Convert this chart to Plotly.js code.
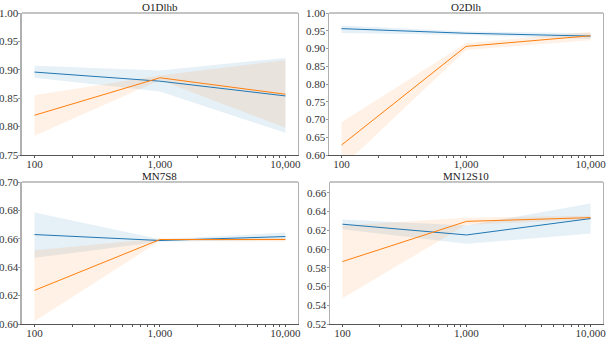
<!DOCTYPE html>
<html>
<head>
<meta charset="utf-8">
<script src="https://cdn.plot.ly/plotly-3.0.1.min.js"></script>
<style>
  html, body { margin: 0; padding: 0; background: #fff; }
  #chart { width: 606px; height: 338px; }
</style>
</head>
<body>
<div id="chart"></div>
<script>
// Dados
const xVals = [100, 1000, 10000];
const xTickText = ['100', '1,000', '10,000'];
const panelTitles = ['O1Dlhb', 'O2Dlh', 'MN7S8', 'MN12S10'];

// O1Dlhb
const o1Blue = [0.896, 0.880, 0.854];
const o1BlueLo = [0.886, 0.862, 0.789];
const o1BlueHi = [0.907, 0.899, 0.921];
const o1Orange = [0.820, 0.886, 0.857];
const o1OrangeLo = [0.784, 0.882, 0.798];
const o1OrangeHi = [0.855, 0.890, 0.917];

// O2Dlh
const o2Blue = [0.956, 0.943, 0.935];
const o2BlueLo = [0.944, 0.938, 0.927];
const o2BlueHi = [0.965, 0.948, 0.943];
const o2Orange = [0.628, 0.906, 0.936];
const o2OrangeLo = [0.565, 0.896, 0.923];
const o2OrangeHi = [0.692, 0.915, 0.947];

// MN7S8
const mn7Blue = [0.6630, 0.6588, 0.6616];
const mn7BlueLo = [0.6466, 0.6580, 0.6593];
const mn7BlueHi = [0.6785, 0.6597, 0.6644];
const mn7Orange = [0.6237, 0.6595, 0.6595];
const mn7OrangeLo = [0.6020, 0.6585, 0.6581];
const mn7OrangeHi = [0.6520, 0.6602, 0.6607];

// MN12S10
const mn12Blue = [0.6265, 0.6150, 0.6325];
const mn12BlueLo = [0.6210, 0.6055, 0.6165];
const mn12BlueHi = [0.6315, 0.6250, 0.6485];
const mn12Orange = [0.5866, 0.6295, 0.6335];
const mn12OrangeLo = [0.5474, 0.6260, 0.6315];
const mn12OrangeHi = [0.6250, 0.6335, 0.6355];

const yRanges = [[0.75, 1.0], [0.6, 1.0], [0.6, 0.7], [0.52, 0.6715]];
const yTicks = [
    [0.75, 0.80, 0.85, 0.90, 0.95, 1.00],
    [0.60, 0.65, 0.70, 0.75, 0.80, 0.85, 0.90, 0.95, 1.00],
    [0.60, 0.62, 0.64, 0.66, 0.68, 0.70],
    [0.52, 0.54, 0.56, 0.58, 0.60, 0.62, 0.64, 0.66]
];
const minorTicks = [200, 300, 400, 500, 600, 700, 800, 900, 2000, 3000, 4000, 5000, 6000, 7000, 8000, 9000];

const BLUE = '#1f77b4';
const ORANGE = '#ff7f0e';
const FONT = "'Liberation Serif', 'DejaVu Serif', serif";

const xDomains = [[0.0363, 0.4917], [0.5430, 0.9950], [0.0363, 0.4917], [0.5446, 0.9950]];
const yDomains = [[0.5414, 0.9615], [0.5414, 0.9615], [0.0414, 0.4615], [0.0414, 0.4615]];

function banda(xa, ya, lo, hi, cor) {
    return {
        x: xVals.concat(xVals.slice().reverse()),
        y: hi.concat(lo.slice().reverse()),
        xaxis: xa, yaxis: ya,
        type: 'scatter', mode: 'lines',
        fill: 'toself', fillcolor: cor,
        line: { width: 0 },
        hoverinfo: 'skip', showlegend: false
    };
}

function linha(xa, ya, y, cor) {
    return {
        x: xVals, y: y,
        xaxis: xa, yaxis: ya,
        type: 'scatter', mode: 'lines',
        line: { color: cor, width: 1 },
        showlegend: false
    };
}

const paineis = [
    [o1Blue, o1BlueLo, o1BlueHi, o1Orange, o1OrangeLo, o1OrangeHi],
    [o2Blue, o2BlueLo, o2BlueHi, o2Orange, o2OrangeLo, o2OrangeHi],
    [mn7Blue, mn7BlueLo, mn7BlueHi, mn7Orange, mn7OrangeLo, mn7OrangeHi],
    [mn12Blue, mn12BlueLo, mn12BlueHi, mn12Orange, mn12OrangeLo, mn12OrangeHi]
];

const data = [];
const layout = {
    width: 606, height: 338,
    margin: { l: 0, r: 0, t: 0, b: 0 },
    paper_bgcolor: '#fff', plot_bgcolor: '#fff',
    font: { family: FONT, size: 11, color: '#333' },
    showlegend: false,
    shapes: [],
    annotations: []
};

paineis.forEach((p, i) => {
    const n = i + 1;
    const xa = 'x' + n, ya = 'y' + n;
    data.push(banda(xa, ya, p[1], p[2], 'rgba(31,119,180,0.11)'));
    data.push(banda(xa, ya, p[4], p[5], 'rgba(255,127,14,0.11)'));
    data.push(linha(xa, ya, p[0], BLUE));
    data.push(linha(xa, ya, p[3], ORANGE));

    layout['xaxis' + n] = {
        domain: xDomains[i], anchor: ya,
        type: 'log', range: [1.9, 4.1],
        tickvals: xVals, ticktext: xTickText,
        ticks: 'outside', ticklen: 2, tickcolor: '#555',
        minor: { tickvals: minorTicks, ticks: 'outside', ticklen: 2, tickcolor: '#555' },
        showline: true, linecolor: '#555', linewidth: 1,
        showgrid: false, zeroline: false, automargin: false,
        ticklabeloverflow: 'allow', ticklabelstandoff: -3,
        tickfont: { family: FONT, size: 11, color: '#333' }
    };
    layout['yaxis' + n] = {
        domain: yDomains[i], anchor: xa,
        range: yRanges[i],
        tickvals: yTicks[i], tickformat: '.2f',
        ticks: 'outside', ticklen: 2, tickcolor: '#999',
        showline: true, linecolor: '#b0b0b0', linewidth: 1.5, mirror: true,
        showgrid: false, zeroline: false, automargin: false,
        ticklabeloverflow: 'allow', ticklabelstandoff: -2,
        tickfont: { family: FONT, size: 11, color: '#333' }
    };
    // borda superior
    layout.shapes.push({
        type: 'line', xref: xa + ' domain', yref: ya + ' domain',
        x0: 0, x1: 1, y0: 1, y1: 1,
        line: { color: '#b0b0b0', width: 1.5 }
    });
    layout.annotations.push({
        text: panelTitles[i],
        xref: 'paper', yref: 'paper',
        x: (xDomains[i][0] + xDomains[i][1]) / 2, y: yDomains[i][1],
        xanchor: 'center', yanchor: 'bottom', yshift: -2,
        showarrow: false,
        font: { family: FONT, size: 11, color: '#222' }
    });
});

Plotly.newPlot('chart', data, layout, { displayModeBar: false, staticPlot: true });
</script>
</body>
</html>
